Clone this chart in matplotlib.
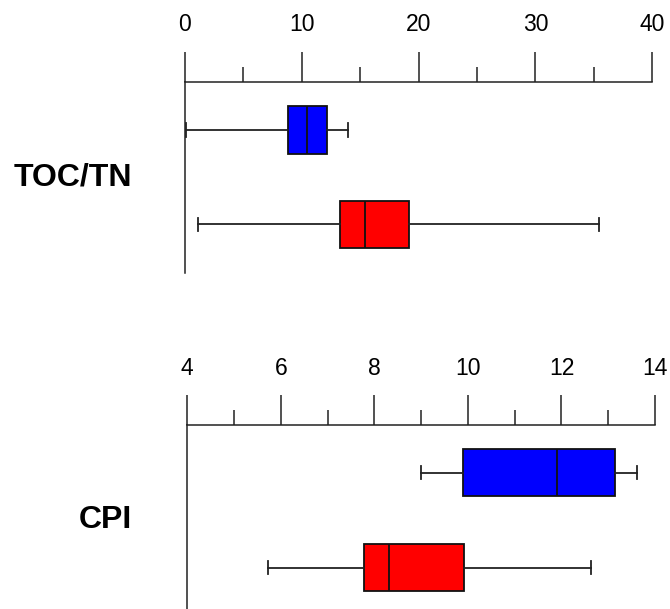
import matplotlib
matplotlib.use("Agg")
import matplotlib.pyplot as plt
import matplotlib.transforms as mtransforms
from matplotlib.ticker import MultipleLocator

plt.rcParams['font.family'] = ['Liberation Sans', 'DejaVu Sans']

# Data (box statistics)
panels = ["TOC/TN", "CPI"]
colors = ["#0000FF", "#FF0000"]

toc_whislo = [0.1, 1.1]
toc_q1 = [8.8, 13.3]
toc_med = [10.5, 15.4]
toc_q3 = [12.2, 19.15]
toc_whishi = [14.0, 35.4]

cpi_whislo = [9.0, 5.73]
cpi_q1 = [9.9, 7.78]
cpi_med = [11.91, 8.32]
cpi_q3 = [13.15, 9.91]
cpi_whishi = [13.62, 12.64]

toc_ticks = [0, 10, 20, 30, 40]
cpi_ticks = [4, 6, 8, 10, 12, 14]

W, H = 670, 609
fig = plt.figure(figsize=(W / 100, H / 100), dpi=100)

line_col = "#222222"


def make_panel(rect, ylim, xlim, major, minor, ticks, stats_cols, label):
    ax = fig.add_axes(rect)
    wl, q1, md, q3, wh = stats_cols
    stats = []
    for i in range(len(wl)):
        stats.append(dict(whislo=wl[i], q1=q1[i], med=md[i], q3=q3[i],
                          whishi=wh[i], fliers=[]))
    bp = ax.bxp(stats, positions=[1, 2], widths=0.5, orientation='horizontal',
                patch_artist=True, showfliers=False, capwidths=0.14,
                boxprops=dict(linewidth=1.3, edgecolor="#111111"),
                medianprops=dict(color="#111111", linewidth=1.3),
                whiskerprops=dict(color=line_col, linewidth=1.3),
                capprops=dict(color=line_col, linewidth=1.3))
    for patch, c in zip(bp['boxes'], colors):
        patch.set_facecolor(c)
    ax.set_xlim(*xlim)
    ax.set_ylim(*ylim)
    ax.xaxis.set_major_locator(MultipleLocator(major))
    ax.xaxis.set_minor_locator(MultipleLocator(minor))
    ax.set_xticks(ticks)
    ax.xaxis.tick_top()
    ax.tick_params(axis='x', which='major', direction='out', length=21.6,
                   width=1.1, color=line_col, labelsize=16.5, pad=11)
    ax.tick_params(axis='x', which='minor', direction='out', length=10.8,
                   width=1.1, color=line_col)
    ax.set_yticks([])
    ax.spines['bottom'].set_visible(False)
    ax.spines['right'].set_visible(False)
    for s in ('top', 'left'):
        ax.spines[s].set_linewidth(1.1)
        ax.spines[s].set_color(line_col)
    ax.patch.set_alpha(0)
    trans = mtransforms.blended_transform_factory(fig.transFigure, ax.transData)
    ax.text(131.7 / W, 1.5, label, transform=trans, ha='right', va='center',
            fontsize=23, fontweight='bold', clip_on=False)
    return ax


# top panel
make_panel([184.7 / W, 1 - 273.3 / H, (652.3 - 184.7) / W, (273.3 - 81.7) / H],
           (2.52, 0.488), (0, 40), 10, 5, toc_ticks,
           (toc_whislo, toc_q1, toc_med, toc_q3, toc_whishi), panels[0])

# bottom panel
make_panel([187.3 / W, 0.0, (655.0 - 187.3) / W, (609 - 425) / H],
           (2.435, 0.498), (4, 14), 2, 1, cpi_ticks,
           (cpi_whislo, cpi_q1, cpi_med, cpi_q3, cpi_whishi), panels[1])

fig.savefig("out.png", dpi=100)
